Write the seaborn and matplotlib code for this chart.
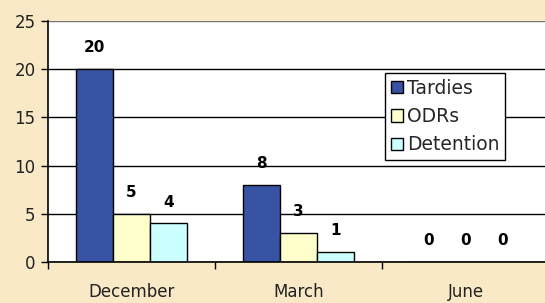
import numpy as np
import pandas as pd
import matplotlib
matplotlib.use('Agg')
import matplotlib.pyplot as plt
import seaborn as sns

# data
months = ['December', 'March', 'June']
series = ['Tardies', 'ODRs', 'Detention']
tardies = [20, 8, 0]
odrs = [5, 3, 0]
detention = [4, 1, 0]
colors = ['#3953A4', '#FFFFCC', '#CCFFFF']

df = pd.DataFrame({
    'month': months * 3,
    'series': ['Tardies'] * 3 + ['ODRs'] * 3 + ['Detention'] * 3,
    'count': tardies + odrs + detention,
})

sns.set_theme(style='white')
plt.rcParams['font.family'] = ['DejaVu Sans']
bg = '#F9E9C6'

fig = plt.figure(figsize=(5.45, 3.03), dpi=100, facecolor=bg)
ax = fig.add_axes([48 / 545, 41 / 303, 501 / 545, 241 / 303])
ax.set_facecolor('white')

sns.barplot(data=df, x='month', y='count', hue='series', order=months,
            hue_order=series, palette=colors, edgecolor='black', linewidth=1,
            width=0.66, ax=ax, saturation=1)

for c in ax.containers:
    ax.bar_label(c, padding=10, fontsize=11, fontweight='bold', color='black')

ax.set_ylim(0, 25)
ax.set_xlim(-0.5, 2.5)
ax.set_yticks(range(0, 26, 5))
ax.grid(axis='y', color='black', linewidth=1)
ax.set_axisbelow(True)
ax.set_xlabel('')
ax.set_ylabel('')

# category boundaries as minor ticks
ax.set_xticks([-0.5, 0.5, 1.5], minor=True)
ax.tick_params(axis='x', which='major', length=0, pad=15, labelsize=12, colors='#222222')
ax.tick_params(axis='x', which='minor', length=5, width=1, color='black', bottom=True, direction='out')
ax.tick_params(axis='y', length=5, width=1, color='black', left=True, direction='out',
               labelsize=12, colors='#222222', pad=4)

for s in ['top', 'right']:
    ax.spines[s].set_visible(False)
ax.spines['left'].set_color('black')
ax.spines['bottom'].set_color('black')
ax.spines['left'].set_linewidth(1.2)
ax.spines['bottom'].set_linewidth(1.2)
ax.get_ygridlines()[-1].set_color('#777777')

leg = ax.legend(loc='upper left', bbox_to_anchor=(0.673, 0.784), borderaxespad=0,
                frameon=True, fancybox=False, edgecolor='black', framealpha=1,
                fontsize=13.5, handlelength=0.65, handleheight=0.65, handletextpad=0.2,
                labelspacing=0.5, borderpad=0.3, title=None)
leg.get_frame().set_linewidth(1)

fig.savefig('out.png', dpi=100, facecolor=bg)
